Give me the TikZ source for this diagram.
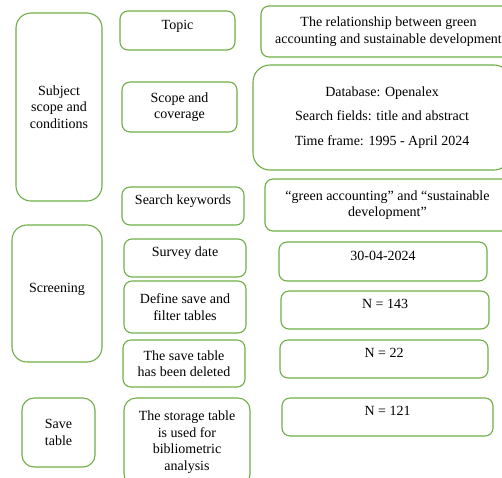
\documentclass[tikz,border=0pt]{standalone}
\usepackage{fontspec}
\setmainfont{Liberation Serif}
\definecolor{boxgreen}{RGB}{112,173,71}

\begin{document}
\begin{tikzpicture}[x=1pt, y=-1pt, every node/.style={font=\fontsize{14}{16.5}\selectfont}]
            \tikzset{
                box/.style={
                        rectangle, draw=boxgreen, line width=1.1pt, rounded corners=8pt,
                        align=center, inner sep=1pt
                    },
                bigbox/.style={
                        box, rounded corners=15pt
                    },
                oneline/.style={
                        text height=9.5pt, text depth=12.5pt
                    }
            }
            \useasboundingbox (0,0) rectangle (502,477);
            \clip (0,0) rectangle (502,477);

            % Left column
            \node[bigbox, minimum width=86pt, minimum height=188pt] (subject) at (59,107) {Subject\\scope and\\conditions};
            \node[bigbox, minimum width=90pt, minimum height=137pt, oneline] (screening) at (57,293.5) {Screening};
            \node[box, rounded corners=12pt, minimum width=73pt, minimum height=69pt] (savetable) at (58.5,432.5) {Save\\table};

            % Middle column
            \node[box, minimum width=115pt, minimum height=39pt, oneline] (topic) at (177.5,30.5) {Topic};
            \node[box, minimum width=115pt, minimum height=50pt] (scope) at (179.5,107) {Scope and\\coverage};
            \node[box, minimum width=122pt, minimum height=38pt, oneline] (keywords) at (183,206) {Search keywords};
            \node[box, minimum width=122pt, minimum height=38pt, oneline] (survey) at (185,258) {Survey date};
            \node[box, minimum width=122pt, minimum height=52pt] (define) at (185,307) {Define save and\\filter tables};
            \node[box, minimum width=122pt, minimum height=47pt] (deleted) at (184,363.5) {The save table\\has been deleted};
            \node[box, rounded corners=12pt, minimum width=126pt, minimum height=88pt] (storage) at (187,442) {The storage table\\is used for\\bibliometric\\analysis};

            % Right column
            \node[box, minimum width=255pt, minimum height=51pt] (relation) at (388.5,31.5) {The relationship between green\\accounting and sustainable development};
            \node[bigbox, rounded corners=17pt, minimum width=258pt, minimum height=105pt] (database) at (382,117.5) {Database: Openalex\\[8pt]Search fields: title and abstract\\[8pt]Time frame: 1995 - April 2024};
            \node[box, minimum width=245pt, minimum height=52pt] (kwtext) at (387.5,205) {``green accounting'' and ``sustainable\\development''};
            \node[box, minimum width=208pt, minimum height=39pt, oneline] (date) at (383,261.5) {30-04-2024};
            \node[box, minimum width=208pt, minimum height=38pt, oneline] (n143) at (385,310) {N = 143};
            \node[box, minimum width=208pt, minimum height=38pt, oneline] (n22) at (384,359) {N = 22};
            \node[box, minimum width=211pt, minimum height=38pt, oneline] (n121) at (387.5,417) {N = 121};
        \end{tikzpicture}
\end{document}
